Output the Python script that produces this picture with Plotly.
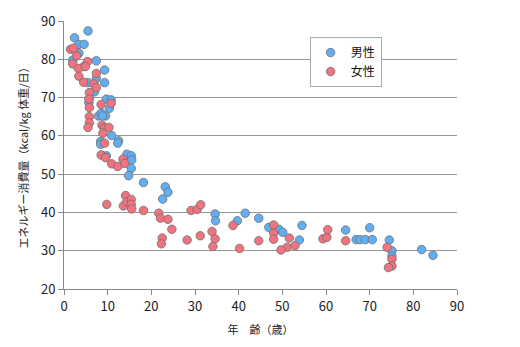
import plotly.graph_objects as go

male_age = [2.4, 5.5, 3.4, 4.6, 3.4, 2.0, 4.5, 7.4, 9.3, 7.4, 9.3, 5.5, 7.0, 5.7, 9.7, 10.8,
            10.4, 7.9, 8.5, 9.5, 10.9, 8.4, 8.4, 12.5, 12.3, 9.7, 14.4, 15.4, 15.5, 15.4, 14.8,
            18.2, 23.2, 23.8, 22.6, 34.6, 34.7, 39.7, 41.5, 44.6, 46.9, 49.2, 50.1, 53.9, 54.5,
            64.5, 66.9, 67.8, 69.0, 70.6, 70.0, 74.5, 75.1, 75.1, 81.9, 84.5, 5.8, 8.8]
male_kcal = [85.6, 87.4, 83.9, 83.9, 81.6, 79.8, 78.1, 79.6, 77.2, 75.0, 73.9, 73.9, 71.5, 68.7, 69.6, 69.4,
             67.2, 65.2, 65.9, 65.2, 60.1, 58.5, 57.8, 58.7, 58.1, 54.8, 55.2, 54.8, 53.7, 51.5, 49.6,
             47.8, 46.7, 45.3, 43.5, 39.6, 37.8, 37.8, 39.8, 38.5, 36.1, 35.6, 34.8, 32.8, 36.6,
             35.4, 32.9, 32.9, 32.9, 32.9, 36.0, 32.8, 30.0, 28.6, 30.3, 28.8, 69.8, 65.2]

female_age = [1.5, 2.2, 2.9, 2.0, 3.3, 5.4, 4.9, 3.4, 4.5, 7.4, 6.8, 7.4, 5.8, 5.7, 5.8, 5.8,
              5.8, 5.5, 8.5, 10.8, 8.7, 9.3, 10.3, 8.9, 9.3, 8.5, 9.5, 10.9, 12.3, 13.5, 13.9,
              9.8, 14.1, 13.6, 14.4, 15.4, 15.4, 15.5, 18.2, 21.7, 22.1, 23.8, 24.7, 22.5, 22.3,
              28.2, 29.1, 30.5, 31.3, 31.2, 33.9, 34.6, 34.1, 38.7, 40.2, 44.6, 48.0, 48.0, 48.0,
              51.6, 51.1, 49.7, 52.9, 59.3, 60.2, 60.4, 64.5, 74.0, 75.1, 75.1, 74.3]
female_kcal = [82.6, 82.9, 80.9, 78.8, 77.6, 79.4, 78.1, 75.6, 74.0, 76.3, 73.6, 72.6, 71.3, 69.6, 67.4, 65.0,
               63.4, 62.2, 68.2, 68.5, 62.8, 62.1, 62.2, 60.7, 58.1, 55.0, 54.3, 52.7, 52.0, 53.9, 52.8,
               42.1, 44.4, 41.7, 42.8, 43.4, 42.1, 40.9, 40.5, 39.8, 38.5, 38.2, 35.6, 33.3, 31.8,
               32.8, 40.5, 40.8, 42.0, 33.9, 35.0, 33.1, 31.1, 36.6, 30.6, 32.6, 36.7, 34.6, 33.0,
               33.3, 30.9, 30.2, 31.3, 33.1, 33.5, 35.5, 32.6, 30.9, 27.8, 26.0, 25.6]

x_ticks = [0, 10, 20, 30, 40, 50, 60, 70, 80, 90]
y_ticks = [20, 30, 40, 50, 60, 70, 80, 90]

FONT = "Noto Sans CJK JP"
blue = "#62aef2"
red = "#f0737f"
outline = dict(color="#6e6e6e", width=0.8)

fig = go.Figure()
fig.add_trace(go.Scatter(x=male_age, y=male_kcal, mode="markers", name="男性",
                         marker=dict(size=8.5, color=blue, line=outline)))
fig.add_trace(go.Scatter(x=female_age, y=female_kcal, mode="markers", name="女性",
                         marker=dict(size=8.5, color=red, line=outline)))

fig.update_layout(
    width=520, height=347,
    margin=dict(l=64, r=63, t=21, b=58),
    paper_bgcolor="white", plot_bgcolor="white",
    font=dict(family=FONT, size=13, color="#222"),
    showlegend=True,
    legend=dict(x=0.625, y=0.94, xanchor="left", yanchor="top",
                bgcolor="white", bordercolor="#aaaaaa", borderwidth=1,
                font=dict(size=12, family=FONT, color="#111"), itemwidth=30,
                tracegroupgap=0, itemsizing="trace"),
    xaxis=dict(range=[0, 90], tickvals=x_ticks, showgrid=False, zeroline=False,
               showline=True, linecolor="#888", linewidth=1,
               ticks="outside", ticklen=5, tickcolor="#888",
               tickfont=dict(size=13, color="#222"),
               title=dict(text="年　齢（歳）", font=dict(size=11, color="#222"), standoff=12)),
    yaxis=dict(range=[20, 90], tickvals=y_ticks, showgrid=True, gridcolor="#999", gridwidth=1,
               zeroline=False, showline=True, linecolor="#888", linewidth=1,
               ticks="outside", ticklen=5, tickcolor="#888",
               tickfont=dict(size=13, color="#222"),
               title=dict(text="エネルギー消費量（kcal/kg 体重/日）", font=dict(size=11, color="#222"), standoff=10)),
)

fig.write_html("out.html")
